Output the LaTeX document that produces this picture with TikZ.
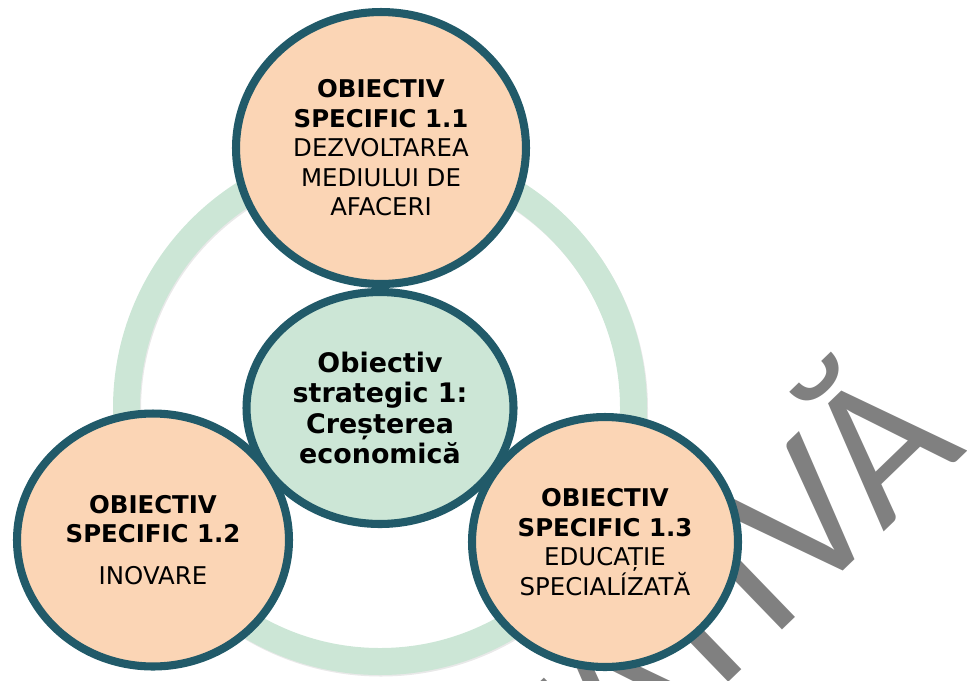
\documentclass[tikz,border=0pt]{standalone}
\usepackage{fontspec}
\setmainfont{DejaVu Sans}
\newfontfamily\wmfont{Carlito}
\usetikzlibrary{shapes.geometric, shadows}
\definecolor{peach}{RGB}{251,213,181}
\definecolor{mint}{RGB}{204,230,214}
\definecolor{petrol}{RGB}{33,90,105}
\definecolor{wmgray}{RGB}{128,128,128}
\tikzset{
  goalbox/.style={ellipse, draw=petrol, line width=4.6pt, fill=peach, inner sep=0pt,
    align=center, font=\fontsize{13.9}{16.8}\selectfont,
    drop shadow={opacity=0.25, shadow xshift=0.8pt, shadow yshift=-1pt}},
  corebox/.style={goalbox, fill=mint, font=\bfseries\fontsize{15.3}{17.3}\selectfont}
}

\begin{document}
\begin{tikzpicture}[x=0.02cm, y=-0.02cm]
    \clip (0,0) rectangle (967,680);
    % Ring im Hintergrund
    \draw[black!25, line width=27*0.2mm, opacity=0.35] (381,409.5) circle (253.5);
    \draw[mint, line width=27*0.2mm] (380,408) circle (253.5);
    % Wasserzeichen
    \node[wmgray, font=\wmfont\fontsize{116}{116}\selectfont, anchor=base east,
      rotate=44, inner sep=0pt] (wm) at (969,450) {TATIVĂ};
    % Ziele
    \node[goalbox, minimum width=290*0.2mm, minimum height=272*0.2mm] (os11) at (381,148)
      {\textbf{OBIECTIV}\\\textbf{SPECIFIC 1.1}\\DEZVOLTAREA\\MEDIULUI DE\\AFACERI};
    \node[goalbox, minimum width=272*0.2mm, minimum height=253*0.2mm] (os12) at (153,540)
      {\textbf{OBIECTIV}\\\textbf{SPECIFIC 1.2}\\[6.8pt]INOVARE};
    \node[corebox, minimum width=267*0.2mm, minimum height=232*0.2mm] (os1) at (380,408)
      {Obiectiv\\strategic 1:\\Creșterea\\economică};
    \node[goalbox, minimum width=266*0.2mm, minimum height=250*0.2mm] (os13) at (605,542)
      {\textbf{OBIECTIV}\\\textbf{SPECIFIC 1.3}\\EDUCAȚIE\\SPECIALÍZATĂ};
  \end{tikzpicture}
\end{document}
